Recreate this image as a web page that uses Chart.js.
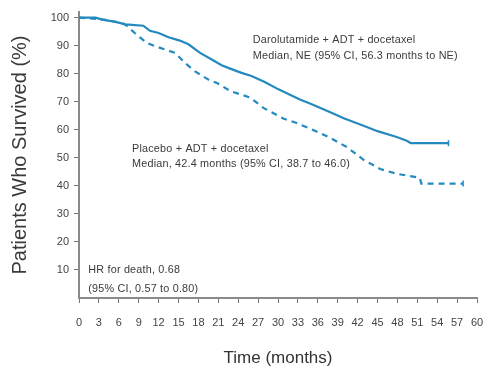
<!DOCTYPE html>
<html>
<head>
<meta charset="utf-8">
<script src="https://cdn.jsdelivr.net/npm/chart.js@4"></script>
<style>
html,body{margin:0;padding:0;background:#fff;}
#wrap{width:483px;height:372px;position:relative;}
</style>
</head>
<body>
<div id="wrap"><canvas id="c" width="483" height="372"></canvas></div>
<script>
// Months and survival (%)
const daroMonths = [0,2.5,3.5,5.5,7,9.7,10.7,12,13.5,15.2,16.5,18.2,20.2,21.5,22.8,24.5,26,28,30,31.8,33.3,35,37.8,40,42.8,45,47.9,49.5,50,52,54,55.7];
const daroValues = [100,100,99.3,98.5,97.6,97.1,95.3,94.5,93,91.8,90.5,87.5,84.8,83,81.8,80.3,79.2,77,74.5,72.5,70.8,69.2,66.3,64,61.5,59.5,57.4,56,55.2,55.2,55.2,55.2];
const placMonths = [0,3,5,6.5,7,8.4,10.2,11.5,13,14.5,16,17.5,19.5,20.8,22.8,25.8,27.8,30.8,32.8,35.8,37.8,40.4,42.9,45.4,47.9,50.4,51.4,51.6,54,56,57.9];
const placValues = [100,99.5,98.8,98,97.5,94.5,91,89.8,88.6,87.4,83.8,80.8,77.9,76.7,73.8,71.5,67.8,64,62.4,59.4,57.2,53.8,49.3,46,44.3,43.3,42.8,40.8,40.8,40.8,40.8];
const xTicks = [0,3,6,9,12,15,18,21,24,27,30,33,36,39,42,45,48,51,54,57,60];
const yTicks = [10,20,30,40,50,60,70,80,90,100];
const daroLabel = ["Darolutamide + ADT + docetaxel","Median, NE (95% CI, 56.3 months to NE)"];
const placLabel = ["Placebo + ADT + docetaxel","Median, 42.4 months (95% CI, 38.7 to 46.0)"];
const hrLabel = ["HR for death, 0.68","(95% CI, 0.57 to 0.80)"];
// anchors (month, %) for annotation text
const daroAnchor = [26.2, 92.0];
const placAnchor = [8.0, 53.2];
const hrAnchor = [1.4, 10];

const BLUE = '#2389bf';
const FONT = "'Liberation Sans', Arial, sans-serif";

function pts(xs, ys){ return xs.map((x,i)=>({x:x,y:ys[i]})); }
function lastOnly(n, r){ return Array.from({length:n},(_,i)=> i===n-1 ? r : 0); }

const annot = {
  id:'annot',
  afterDatasetsDraw(chart){
    const ctx = chart.ctx, xs = chart.scales.x, ys = chart.scales.y;
    ctx.save();
    ctx.fillStyle = '#3a3a3a';
    ctx.font = "10.8px " + FONT;
    try { ctx.letterSpacing = '0.2px'; } catch(e) {}
    ctx.textBaseline = 'middle';
    ctx.textAlign = 'left';
    const draw = (lines, a, gap) => {
      const x = xs.getPixelForValue(a[0]);
      const y = ys.getPixelForValue(a[1]);
      lines.forEach((t,i)=> ctx.fillText(t, x, y + i*gap));
    };
    draw(daroLabel, daroAnchor, 16);
    draw(placLabel, placAnchor, 15);
    draw(hrLabel, hrAnchor, 19);
    ctx.restore();
  }
};

new Chart(document.getElementById('c'), {
  type:'line',
  data:{
    datasets:[
      {label:'Darolutamide', data:pts(daroMonths,daroValues), borderColor:BLUE, backgroundColor:BLUE,
       borderWidth:2.2, tension:0, pointStyle:'line', pointRotation:90,
       pointRadius:lastOnly(daroMonths.length,3), pointBorderWidth:1.5},
      {label:'Placebo', data:pts(placMonths,placValues), borderColor:BLUE, backgroundColor:BLUE,
       borderWidth:2.2, borderDash:[6,5], tension:0, pointStyle:'line', pointRotation:90,
       pointRadius:lastOnly(placMonths.length,3), pointBorderWidth:1.5}
    ]
  },
  options:{
    responsive:false, animation:false,
    layout:{padding:{top:12,right:6,left:0,bottom:0}},
    plugins:{legend:{display:false}, tooltip:{enabled:false}},
    scales:{
      x:{type:'linear', min:0, max:60,
        afterBuildTicks(a){ a.ticks = xTicks.map(v=>({value:v})); },
        afterFit(s){ s.height = 74; s.paddingRight = 0; s.paddingLeft = 0; },
        grid:{display:true, drawOnChartArea:false, drawTicks:true, tickLength:5, color:'#777', tickWidth:1},
        border:{display:true, color:'#8a8a8a', width:2},
        ticks:{color:'#444', font:{family:FONT, size:11}, padding:13, maxRotation:0, autoSkip:false},
        title:{display:true, text:'Time (months)', color:'#333', font:{family:FONT, size:17}, padding:{top:0,bottom:3}}
      },
      y:{type:'linear', min:0, max:102,
        afterBuildTicks(a){ a.ticks = yTicks.map(v=>({value:v})); },
        afterFit(s){ s.width = 79; s.paddingTop = 0; s.paddingBottom = 0; },
        grid:{display:true, drawOnChartArea:false, drawTicks:true, tickLength:5, color:'#777', tickWidth:1},
        border:{display:true, color:'#8a8a8a', width:2},
        ticks:{color:'#444', font:{family:FONT, size:11}, padding:5},
        title:{display:true, text:'Patients Who Survived (%)', color:'#3a3a3a', font:{family:FONT, size:20}, padding:{top:8,bottom:0}}
      }
    }
  },
  plugins:[annot]
});
</script>
</body>
</html>
